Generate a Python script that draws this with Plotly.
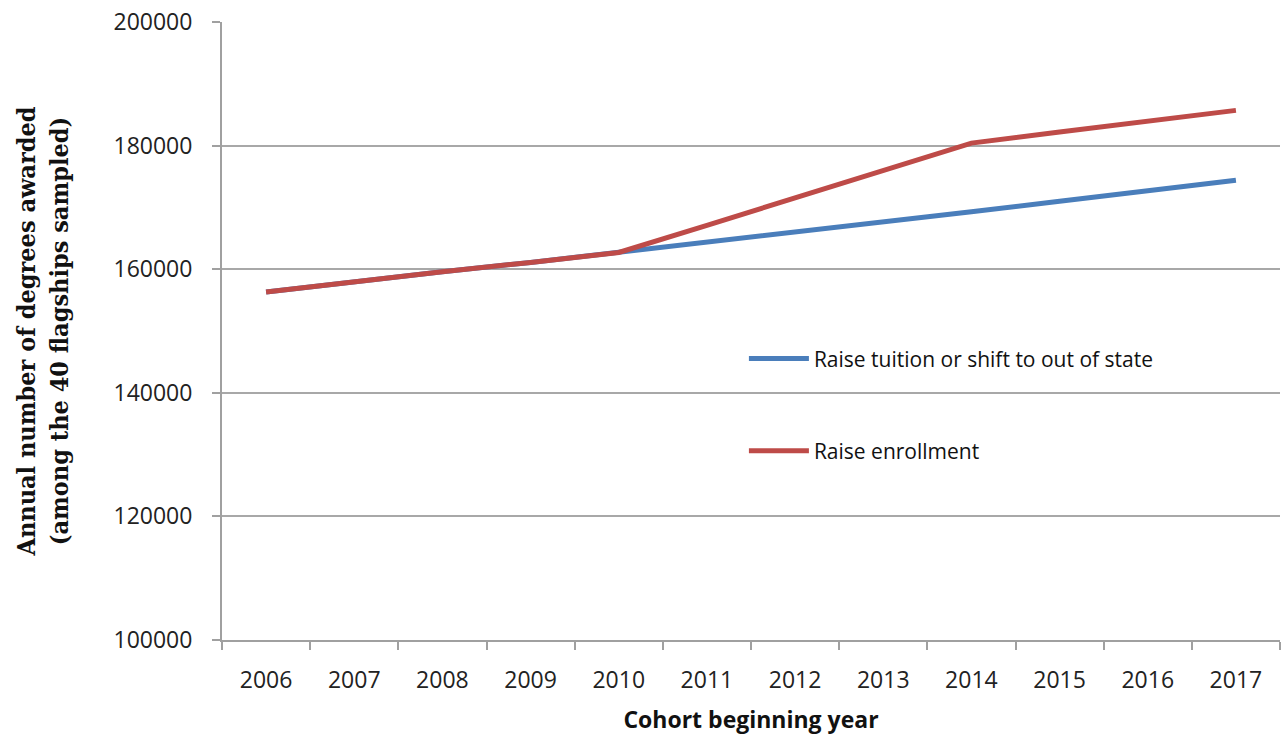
import plotly.graph_objects as go

years = ["2006", "2007", "2008", "2009", "2010", "2011", "2012", "2013", "2014", "2015", "2016", "2017"]
tuition = [156300, 158000, 159600, 161100, 162700, 164300, 166000, 167600, 169300, 171000, 172700, 174400]
enrollment = [156300, 158000, 159600, 161100, 162700, 167100, 171600, 176000, 180400, 182200, 184000, 185700]
y_ticks = [100000, 120000, 140000, 160000, 180000, 200000]

FONT = "Open Sans"
fig = go.Figure()
fig.add_trace(go.Scatter(x=years, y=tuition, mode="lines", name="Raise tuition or shift to out of state",
                         legendgroup="a", line=dict(color="#4A7EBB", width=5)))
fig.add_trace(go.Scatter(x=years, y=enrollment, mode="lines", name="Raise enrollment",
                         legendgroup="b", line=dict(color="#BE4B48", width=5)))

fig.update_layout(
    width=1281, height=736,
    margin=dict(l=222, r=1, t=22, b=96),
    paper_bgcolor="white", plot_bgcolor="white",
    font=dict(family=FONT, size=23, color="#222222"),
    showlegend=True,
    legend=dict(x=0.4933, y=0.488, xanchor="left", yanchor="top",
                bgcolor="rgba(0,0,0,0)", itemwidth=60, tracegroupgap=62,
                font=dict(family=FONT, size=21, color="#111111")),
    xaxis=dict(type="category", range=[-0.5, 11.5], showline=True, linecolor="#a0a0a0", linewidth=2,
               ticks="outside", tickson="boundaries", ticklen=8, tickcolor="#a0a0a0", tickwidth=2,
               showgrid=False, ticklabelstandoff=18,
               title=dict(text="<b>Cohort beginning year</b>", standoff=18,
                          font=dict(family=FONT, size=23, color="#111111"))),
    yaxis=dict(range=[100000, 200000], tickvals=y_ticks, ticktext=[str(v) for v in y_ticks],
               showline=True, linecolor="#a0a0a0", linewidth=2,
               ticks="outside", ticklen=8, tickcolor="#a0a0a0", tickwidth=2,
               showgrid=True, gridcolor="#a8a8a8", gridwidth=2, zeroline=False,
               ticklabelstandoff=15,
               title=dict(text="<b>Annual number of degrees awarded<br>(among the 40 flagships sampled)</b>",
                          standoff=38,
                          font=dict(family="DejaVu Serif Condensed", size=25, color="#111111"))),
)

fig.write_html("out.html")
